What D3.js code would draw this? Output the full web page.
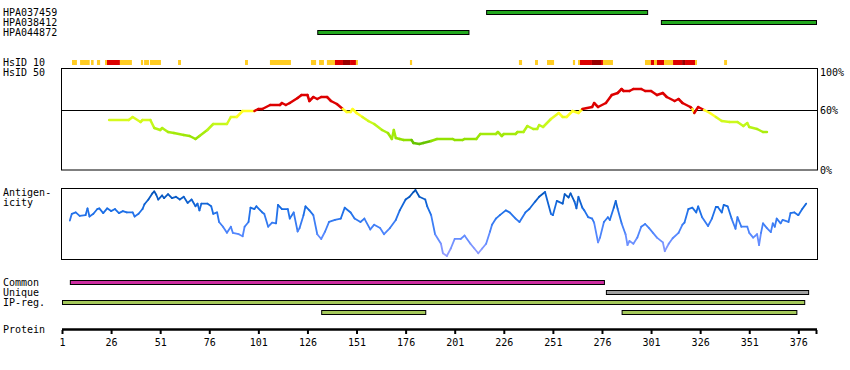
<!DOCTYPE html>
<html><head><meta charset="utf-8">
<script src="https://cdn.jsdelivr.net/npm/d3@7"></script>
<style>
body{margin:0;background:#fff}
svg{display:block}
text{font-family:"DejaVu Sans Mono",monospace;font-size:10px;fill:#000}
</style>
</head><body>
<svg id="chart" width="850" height="370"></svg>
<script>
// ---------------- data ----------------
const proteinLength = 385;
const tickLabels = [1,26,51,76,101,126,151,176,201,226,251,276,301,326,351,376];

const antibodyNames = ["HPA037459","HPA038412","HPA044872"];
const antibodyRanges = [[217,299],[306,385],[131,208]];

// HsID 10 segments: [start, end, level] level 1 = partial, 2 = high, 3 = highest
const hsid10 = [
  [6.1,8.6,1],[10.2,15.1,1],[15.8,17.1,1],[18.8,20.4,1],[22.9,23.9,1],[23.9,30.5,2],[30.5,36.6,1],
  [41.2,42.3,1],[42.8,45.3,1],[45.8,51.4,1],[60.1,61.6,1],[94.2,95.7,1],[106.9,117.6,1],
  [127.8,130.4,1],[131.9,134.4,1],[135.9,140.0,1],[140.0,144.1,2],[144.1,147.7,3],[147.7,150.7,2],
  [150.7,151.7,1],[178.2,179.3,1],[233.7,235.3,1],[241.9,243.4,1],[248.0,251.6,1],[261.2,262.3,1],
  [263.8,264.8,1],[264.8,270.9,2],[270.9,275.5,3],[275.5,276.5,2],[276.5,281.6,1],
  [297.9,300.9,1],[300.9,302.5,2],[302.5,304.0,1],[304.0,307.6,2],[307.6,312.2,1],
  [312.2,316.8,2],[316.8,318.3,3],[318.3,323.4,2],[323.4,324.4,1],[338.2,339.7,1]
];

// HsID 50 profile: [residue, % identity]
const hsid50 = [
  [25,50],[35,50],[37,53],[41,48],[42,50],[46,50],[48,42],[51,40],[52,42],[55,38],[58,37],[63,35],
  [66,34],[69,31],[71,34],[75,40],[78,46],[85,46],[87,53],[90,53],[93,59],[99,59],[101,61],[103,61],
  [107,65],[112,65],[113,67],[115,65],[117,67],[121,72],[123,75],[126,75],[127,69],[129,73],[131,71],
  [133,73],[136,73],[138,69],[141,66],[144,61],[146,58],[148,58],[149,61],[151,57],[154,53],[157,49],
  [160,46],[164,40],[167,37],[169,31],[170,40],[171,32],[173,31],[175,30],[179,30],[180,27],[183,26],
  [185,27],[189,29],[192,31],[200,31],[201,30],[205,30],[206,31],[212,31],[214,36],[222,36],[223,38],
  [225,34],[226,36],[232,36],[233,38],[236,38],[238,44],[241,41],[243,41],[244,45],[246,43],[250,51],
  [254,57],[256,53],[258,53],[261,59],[264,57],[266,61],[271,63],[272,67],[274,63],[278,67],[281,75],
  [284,77],[286,81],[287,79],[290,79],[292,81],[296,81],[298,79],[301,79],[304,75],[307,77],[309,73],
  [313,69],[315,71],[317,67],[321,63],[322,61],[323,57],[325,63],[328,60],[331,57],[334,53],[337,49],
  [341,48],[345,48],[348,44],[350,47],[351,43],[355,41],[358,38],[360,38]
];

// Antigenicity profile: [residue, relative score 0-100]
const antigenicity = [
  [5,55],[6,65],[8,67],[10,62],[13,63],[14,73],[15,61],[17,65],[19,72],[20,73],[22,66],[24,73],[26,69],
  [28,72],[30,66],[32,69],[34,67],[37,67],[38,61],[40,65],[42,72],[43,79],[45,86],[47,95],[48,98],[49,93],
  [50,86],[52,92],[53,88],[55,94],[57,88],[59,90],[61,86],[63,90],[65,81],[67,86],[69,76],[70,80],[71,70],
  [72,80],[75,80],[77,76],[78,65],[80,67],[81,53],[83,46],[85,37],[87,46],[88,37],[91,35],[93,32],[94,46],
  [96,53],[97,74],[99,72],[100,76],[103,67],[104,65],[106,46],[108,52],[110,51],[111,78],[113,72],[116,72],
  [117,58],[119,67],[121,39],[122,44],[124,63],[125,76],[127,70],[129,63],[131,35],[133,28],[135,39],[137,53],
  [140,56],[143,58],[145,74],[148,67],[150,58],[153,53],[155,58],[158,42],[160,49],[163,44],[165,35],[168,44],
  [171,56],[173,70],[176,86],[178,90],[180,97],[181,100],[183,90],[186,86],[187,76],[189,63],[191,35],[194,21],
  [195,7],[197,3],[199,14],[201,28],[204,28],[206,33],[209,21],[211,14],[213,7],[215,14],[217,21],[219,39],
  [220,49],[222,58],[224,63],[227,70],[229,67],[232,58],[234,53],[237,67],[239,72],[242,83],[244,90],[247,97],
  [250,65],[251,63],[253,84],[256,80],[257,94],[259,89],[260,95],[262,83],[263,73],[264,90],[266,74],[267,70],
  [269,60],[271,58],[272,52],[274,23],[275,30],[277,53],[279,60],[280,56],[282,74],[283,84],[284,72],[286,51],
  [288,35],[289,19],[290,25],[292,21],[294,30],[296,46],[298,50],[300,44],[302,37],[304,30],[307,23],[308,10],
  [310,21],[312,29],[315,37],[317,49],[318,52],[320,72],[322,74],[324,67],[325,76],[327,60],[330,47],[332,58],
  [334,75],[335,75],[337,67],[338,78],[340,76],[342,58],[344,43],[345,60],[347,46],[350,46],[351,37],[353,30],
  [355,35],[356,19],[357,37],[358,51],[360,44],[362,38],[363,51],[364,46],[365,58],[367,51],[368,56],[371,53],
  [372,66],[374,67],[376,63],[378,72],[380,80]
];

const commonRegions = [[5,277]];
const uniqueRegions = [[278,381]];
const ipRegions = [[1,379],[133,186],[286,375]];

// ---------------- drawing ----------------
const svg = d3.select("#chart");
const x = d3.scaleLinear().domain([1, proteinLength]).range([62, 816]);
const yHs = d3.scaleLinear().domain([0, 100]).range([170, 70]);
const yAg = d3.scaleLinear().domain([0, 100]).range([258, 190]);

function label(txt, lx, ly, anchor){
  svg.append("text").attr("x", lx).attr("y", ly).attr("text-anchor", anchor || "start").text(txt);
}

// antibody labels & bars
antibodyNames.forEach((n, i) => label(n, 3, 16 + i*10));
svg.selectAll("rect.ab").data(antibodyRanges).join("rect")
  .attr("x", d => x(d[0]) + 0.5).attr("y", (d, i) => 10.5 + i*10)
  .attr("width", d => x(d[1]) - x(d[0])).attr("height", 4)
  .attr("fill", "#22a81e").attr("stroke", "#000").attr("stroke-width", 1);

// HsID 10 row
label("HsID 10", 3, 65.5);
label("HsID 50", 3, 75.5);
const hs10Color = {1:"#ffcc22", 2:"#dd0000", 3:"#990000"};
svg.selectAll("rect.h10").data(hsid10).join("rect")
  .attr("x", d => x(d[0])).attr("y", 60)
  .attr("width", d => x(d[1]) - x(d[0])).attr("height", 5)
  .attr("fill", d => hs10Color[d[2]]);

// HsID 50 box
svg.append("rect").attr("x", 61.5).attr("y", 68.5).attr("width", 756).attr("height", 101.5)
  .attr("fill", "none").attr("stroke", "#000");
svg.append("line").attr("x1", 62).attr("x2", 817.5).attr("y1", 110.5).attr("y2", 110.5).attr("stroke", "#000");
label("100%", 820, 75.5);
label("60%", 820, 114);
label("0%", 820, 173.5);

const hsGreen = d3.scaleLinear().domain([30, 45, 60]).range(["#90e000", "#c0f81a", "#ffff22"]).clamp(true);
function hsColor(v){
  if (v >= 60) return "#dd0000";
  if (v < 30) return "#66c400";
  if (v >= 55) return "#ffff22";
  return hsGreen(v);
}
const hsSeg = d3.pairs(hsid50);
svg.append("g").selectAll("line").data(hsSeg).join("line")
  .attr("x1", d => x(d[0][0])).attr("y1", d => yHs(d[0][1]))
  .attr("x2", d => x(d[1][0])).attr("y2", d => yHs(d[1][1]))
  .attr("stroke", d => hsColor((d[0][1] + d[1][1]) / 2))
  .attr("stroke-width", 2.5).attr("stroke-linecap", "round");

// Antigenicity
label("Antigen-", 3, 196);
label("icity", 3, 206);
svg.append("rect").attr("x", 61.5).attr("y", 188.5).attr("width", 756).attr("height", 71)
  .attr("fill", "none").attr("stroke", "#000");
const agColor = d3.scaleLinear().domain([0, 35, 70, 100])
  .range(["#a0a0ff", "#5588ff", "#1a6ee6", "#0050b4"]).clamp(true);
const agSeg = d3.pairs(antigenicity);
svg.append("g").selectAll("line").data(agSeg).join("line")
  .attr("x1", d => x(d[0][0])).attr("y1", d => yAg(d[0][1]))
  .attr("x2", d => x(d[1][0])).attr("y2", d => yAg(d[1][1]))
  .attr("stroke", d => agColor((d[0][1] + d[1][1]) / 2))
  .attr("stroke-width", 1.8).attr("stroke-linecap", "round");

// region bars
label("Common", 3, 286);
label("Unique", 3, 296);
label("IP-reg.", 3, 306);
function bars(data, rowY, fill){
  svg.append("g").selectAll("rect").data(data).join("rect")
    .attr("x", d => x(d[0]) + 0.5).attr("y", (d, i) => rowY(i) + 0.5)
    .attr("width", d => x(d[1]) - x(d[0])).attr("height", 4)
    .attr("fill", fill).attr("stroke", "#000");
}
bars(commonRegions, () => 280, "#cc2ca0");
bars(uniqueRegions, () => 290, "#a0a0a0");
bars(ipRegions, i => (i === 0 ? 300 : 310), "#a4c85a");

// protein axis
label("Protein", 3, 333);
const axis = d3.axisBottom(x).tickValues(tickLabels.concat([proteinLength])).tickSize(4)
  .tickFormat(d => tickLabels.includes(d) ? d : "");
const ag = svg.append("g").attr("transform", "translate(0,330)").call(axis);
ag.select(".domain").remove();
ag.selectAll(".tick line").attr("stroke", "#000").attr("stroke-width", 2);
ag.selectAll(".tick text").attr("y", 8.5).attr("font-family", "DejaVu Sans Mono").attr("font-size", 10).attr("fill", "#000");
svg.append("line").attr("x1", 62).attr("x2", 817).attr("y1", 329.5).attr("y2", 329.5)
  .attr("stroke", "#000").attr("stroke-width", 2.5);
</script>
</body></html>
